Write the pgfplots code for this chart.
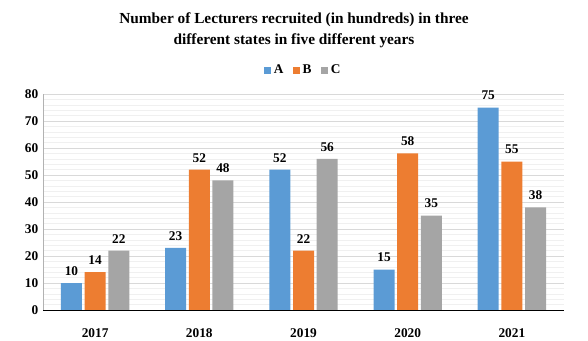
\documentclass[border=0pt]{standalone}
\usepackage{pgfplots}
\pgfplotsset{compat=1.18}
\usepackage{fontspec}
\setmainfont{Liberation Serif}
\definecolor{cA}{HTML}{5B9BD5}
\definecolor{cB}{HTML}{ED7D31}
\definecolor{cC}{HTML}{A5A5A5}
\begin{document}
\begin{tikzpicture}[x=1pt,y=1pt]
\useasboundingbox (0,0) rectangle (441,255);
\node[font=\bfseries\fontsize{11.5}{16}\selectfont, align=center] at (220.5,232.5) {Number of Lecturers recruited (in hundreds) in three\\different states in five different years};
\begin{axis}[
  at={(32.25pt,22.5pt)}, anchor=south west,
  scale only axis, width=390.75pt, height=162pt,
  ymin=0, ymax=80, ytick={0,10,...,80},
  minor y tick num=4,
  xmin=-0.5, xmax=4.5,
  xtick=data, xticklabels={2017,2018,2019,2020,2021},
  ybar, bar width=15.75pt,
  ymajorgrids, yminorgrids,
  major grid style={draw=black!15},
  minor grid style={draw=black!6},
  axis line style={draw=none},
  tick style={draw=none},
  ticklabel style={font=\bfseries\fontsize{10}{12}\selectfont},
  /pgf/number format/assume math mode=true,
  xticklabel style={yshift=-6pt},
  nodes near coords,
  every node near coord/.append style={font=\bfseries\fontsize{10}{12}\selectfont, yshift=2pt},
  legend columns=3,
  legend style={at={(0.5,1.11)}, anchor=center, draw=none, font=\bfseries\fontsize{10}{12}\selectfont, /tikz/every even column/.append style={column sep=5pt}},
  legend image code/.code={\fill[#1] (0pt,-2.7pt) rectangle (5.4pt,2.7pt);},
  clip=false,
]
\addplot[fill=cA, draw=none] coordinates {(0,10) (1,23) (2,52) (3,15) (4,75)};
\addplot[fill=cB, draw=none] coordinates {(0,14) (1,52) (2,22) (3,58) (4,55)};
\addplot[fill=cC, draw=none] coordinates {(0,22) (1,48) (2,56) (3,35) (4,38)};
\legend{A,B,C}
\draw[black!30] (rel axis cs:0,0) -- (rel axis cs:0,1);
\draw[black] (rel axis cs:0,0) -- (rel axis cs:1,0);
\end{axis}
\end{tikzpicture}
\end{document}
